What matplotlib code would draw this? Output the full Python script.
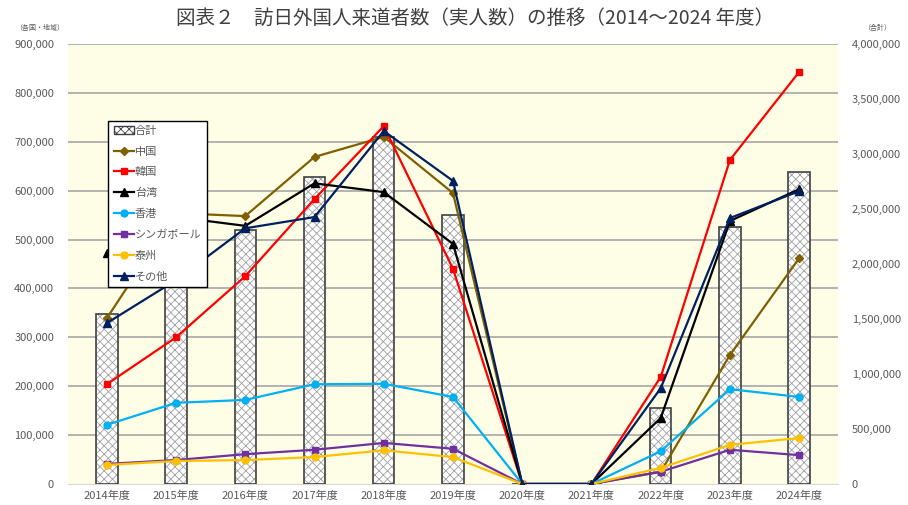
import numpy as np
import matplotlib
matplotlib.use("Agg")
import matplotlib.pyplot as plt
from matplotlib.patches import Patch
from matplotlib.ticker import FuncFormatter

plt.rcParams['font.family'] = ['Noto Sans CJK JP', 'DejaVu Sans']
plt.rcParams['hatch.linewidth'] = 0.6

years = ["2014年度", "2015年度", "2016年度", "2017年度", "2018年度", "2019年度",
         "2020年度", "2021年度", "2022年度", "2023年度", "2024年度"]

# total (right axis)
total = [1545000, 2082000, 2309000, 2791000, 3155000, 2445000, 0, 0, 691000, 2336000, 2836000]

# by country / region (left axis)
china = [339000, 554000, 548000, 669000, 710000, 595000, 0, 0, 25000, 264000, 462000]
korea = [204000, 300000, 425000, 583000, 732000, 440000, 0, 0, 219000, 663000, 843000]
taiwan = [472000, 546000, 528000, 615000, 597000, 491000, 0, 0, 135000, 538000, 603000]
hongkong = [121000, 166000, 172000, 204000, 205000, 178000, 0, 0, 67000, 194000, 178000]
singapore = [41000, 49000, 61000, 70000, 84000, 72000, 0, 0, 25000, 70000, 59000]
thai = [39000, 47000, 49000, 55000, 69000, 55000, 0, 0, 33000, 80000, 94000]
others = [329000, 417000, 523000, 546000, 722000, 620000, 0, 0, 196000, 544000, 599000]

series = [
    ("中国", china, "#7F6000", "D", 4),
    ("韓国", korea, "#FF0000", "s", 5),
    ("台湾", taiwan, "#000000", "^", 6),
    ("香港", hongkong, "#00B0F0", "o", 5),
    ("シンガポール", singapore, "#7030A0", "s", 5),
    ("泰州", thai, "#FFC000", "o", 5),
    ("その他", others, "#002060", "^", 6),
]

LEFT_MAX = 900000
RIGHT_MAX = 4000000
tick_col = "#595959"
fmt = FuncFormatter(lambda v, p: f"{int(v):,}")

fig = plt.figure(figsize=(9.08, 5.05), dpi=100)
ax = fig.add_axes([0.0749, 0.0416, 0.848, 0.8713])
ax.set_facecolor("#FEFEE6")
x = np.arange(len(years))

# gridlines at the left-axis ticks, converted to the right scale
for v in np.arange(100000, LEFT_MAX + 1, 100000):
    ax.axhline(v * RIGHT_MAX / LEFT_MAX, color="#A6A6A6", lw=1.2, zorder=0)

# bars: hatch layer + outline layer
ax.bar(x, total, width=0.31, facecolor="white", edgecolor="#A0A0A0", hatch="xxxx", lw=0, zorder=2)
ax.bar(x, total, width=0.31, facecolor="none", edgecolor="#404040", lw=1.2, zorder=3)
ax.set_ylim(0, RIGHT_MAX)
ax.set_xlim(-0.56, len(years) - 0.44)
ax.set_xticks(x)
ax.set_xticklabels(years)
ax.tick_params(axis="x", length=0, pad=5, labelsize=8, labelcolor=tick_col)
for s in ["top", "left", "right"]:
    ax.spines[s].set_visible(False)
ax.spines["bottom"].set_color("#D9D9D9")

ax2 = ax.twinx()
handles = [Patch(facecolor="white", edgecolor="#404040", hatch="xxxx", label="合計")]
for name, vals, col, mk, ms in series:
    h, = ax2.plot(x, vals, color=col, marker=mk, markersize=ms, lw=1.6, label=name)
    handles.append(h)
ax2.set_ylim(0, LEFT_MAX)
ax2.set_yticks(np.arange(0, LEFT_MAX + 1, 100000))
ax2.yaxis.tick_left()
ax2.yaxis.set_major_formatter(fmt)
ax2.tick_params(axis="y", length=0, pad=10, labelsize=8, labelcolor=tick_col)
for s in ["top", "left", "right", "bottom"]:
    ax2.spines[s].set_visible(False)

# right axis (total) set after twinx, which resets tick sides
ax.yaxis.tick_right()
ax.set_yticks(np.arange(0, RIGHT_MAX + 1, 500000))
ax.yaxis.set_major_formatter(fmt)
ax.tick_params(axis="y", length=0, pad=10, labelsize=8, labelcolor=tick_col)

leg = ax2.legend(handles=handles, loc="upper left", bbox_to_anchor=(0.113, 0.772),
                 bbox_transform=fig.transFigure, fontsize=8, frameon=True, fancybox=False,
                 framealpha=1, edgecolor="black", labelspacing=0.95, handlelength=1.8,
                 handletextpad=0.1, borderpad=0.5, labelcolor=tick_col)
leg.get_frame().set_linewidth(1.0)

fig.text(0.523, 0.963, "図表２　訪日外国人来道者数（実人数）の推移（2014～2024 年度）",
         ha="center", va="center", fontsize=14, color="#404040")
fig.text(0.044, 0.944, "（各国・地域）", ha="center", va="center", fontsize=5, color=tick_col)
fig.text(0.966, 0.944, "（合計）", ha="center", va="center", fontsize=5, color=tick_col)

fig.savefig("out.png", dpi=100)
